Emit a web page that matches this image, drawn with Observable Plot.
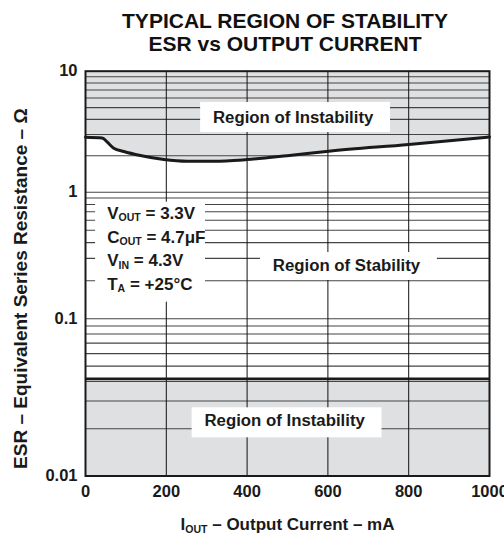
<!DOCTYPE html>
<html><head><meta charset="utf-8">
<script src="https://cdn.jsdelivr.net/npm/d3@7"></script>
<script src="https://cdn.jsdelivr.net/npm/@observablehq/plot@0.6"></script>
<style>
body{margin:0;background:#fff;font-family:"Liberation Sans",Arial,Helvetica,sans-serif;}
#title{box-sizing:border-box;height:60px;padding-top:8.5px;margin-left:83px;width:404px;text-align:center;font-weight:bold;font-size:21px;line-height:23px;color:#111;}
</style></head><body>
<div id="title">TYPICAL REGION OF STABILITY<br>ESR vs OUTPUT CURRENT</div>
<div id="chart"></div>
<script>
// ---- data ----
const currentMA = [0, 41, 54, 70, 95, 136, 194, 252, 318, 400, 499, 602, 800, 1000];
const esrUpper  = [2.85, 2.81, 2.59, 2.31, 2.17, 2.01, 1.86, 1.80, 1.80, 1.86, 2.00, 2.18, 2.48, 2.86];
const esrLower = 0.0415;
const xTicks = [0, 200, 400, 600, 800, 1000];
const xGrid = [200, 400, 600, 800];
const yTicks = [0.01, 0.1, 1, 10];
const yGrid = [0.02,0.03,0.04,0.05,0.06,0.07,0.08,0.09,0.1,
               0.2,0.3,0.4,0.5,0.6,0.7,0.8,0.9,1,
               2,3,4,5,6,7,8,9];
const regionLabels = ["Region of Instability", "Region of Stability", "Region of Instability"];
const regionLabelX = [514, 646, 493];
const regionLabelY = [4.17, 0.264, 0.02255];
const regionBoxX1 = [285, 433, 264];
const regionBoxX2 = [755, 871, 734];
const regionBoxY1 = [3.114, 0.2007, 0.0175];
const regionBoxY2 = [5.51, 0.334, 0.02716];
const conditionLines = ["V_{OUT} = 3.3V", "C_{OUT} = 4.7\u03bcF", "V_{IN} = 4.3V", "T_{A} = +25\u00b0C"];
const conditionX = 53.7;
const conditionY = [0.680, 0.442, 0.287, 0.1866];
const conditionBox = {x1: 25, x2: 297, y1: 0.1353, y2: 0.834};
const xLabel = "I_{OUT} \u2013 Output Current \u2013 mA";
const yLabel = "ESR \u2013 Equivalent Series Resistance \u2013 \u03a9";

const curve = currentMA.map((x, i) => ({x, y: esrUpper[i]}));
const boxes = regionLabels.map((t, i) => ({x1: regionBoxX1[i], x2: regionBoxX2[i], y1: regionBoxY1[i], y2: regionBoxY2[i]}));
const labels = regionLabels.map((t, i) => ({text: t, x: regionLabelX[i], y: regionLabelY[i]}));
const conds = conditionLines.map((t, i) => ({text: t, x: conditionX, y: conditionY[i]}));

// ---- layout ----
const W = 504, H = 476, mT = 10.7, mB = 60.5, mL = 85, mR = 15;
const yRange = [H - mB, 258.3, 131.7, mT];
const GRAY = "#dfe0e2", INK = "#1a1a1a";

const plot = Plot.plot({
  width: W, height: H,
  marginTop: mT, marginBottom: mB, marginLeft: mL, marginRight: mR,
  style: {fontFamily: '"Liberation Sans", Arial, sans-serif', fontWeight: "bold", color: INK, background: "#fff"},
  x: {domain: [0, 1000]},
  y: {type: "log", domain: yTicks, range: yRange},
  marks: [
    Plot.areaY(curve, {x: "x", y1: "y", y2: 10, fill: GRAY, curve: "monotone-x"}),
    Plot.areaY([{x: 0}, {x: 1000}], {x: "x", y1: 0.01, y2: esrLower, fill: GRAY}),
    Plot.ruleY(yGrid, {stroke: "#444", strokeWidth: 1.1}),
    Plot.ruleX(xGrid, {stroke: "#111", strokeWidth: 1}),
    Plot.ruleY([esrLower], {stroke: INK, strokeWidth: 2.5}),
    Plot.line(curve, {x: "x", y: "y", stroke: INK, strokeWidth: 3, curve: "monotone-x"}),
    Plot.rect(boxes, {x1: "x1", x2: "x2", y1: "y1", y2: "y2", fill: "#fff"}),
    Plot.rect([conditionBox], {x1: "x1", x2: "x2", y1: "y1", y2: "y2", fill: "#fff"}),
    Plot.text(labels, {x: "x", y: "y", text: "text", fontSize: 16.8, fill: INK, lineAnchor: "middle"}),
    Plot.text(conds, {x: "x", y: "y", text: "text", fontSize: 17, fill: INK, textAnchor: "start", lineAnchor: "middle"}),
    Plot.axisX({ticks: xTicks, tickSize: 0, tickPadding: 9.5, fontSize: 16.5, label: null, tickFormat: d => String(d), fill: INK}),
    Plot.axisY({ticks: yTicks, tickSize: 0, tickPadding: 8, fontSize: 16.5, label: null, tickFormat: d => String(d), fill: INK}),
    Plot.text([xLabel], {frameAnchor: "bottom", textAnchor: "middle", dy: 49, fontSize: 17, fill: INK, lineAnchor: "middle"}),
    Plot.text([yLabel], {frameAnchor: "left", textAnchor: "middle", rotate: -90, dx: -65, dy: 15, fontSize: 19, fill: INK, lineAnchor: "middle"}),
    Plot.frame({stroke: INK, strokeWidth: 2})
  ]
});

// subscripts written as _{...}
const NS = "http://www.w3.org/2000/svg";
d3.select(plot).selectAll("text").each(function() {
  const targets = this.querySelector("tspan") ? Array.from(this.querySelectorAll("tspan")) : [this];
  targets.forEach(t => {
    const s = t.textContent;
    if (!s.includes("_{")) return;
    const parts = s.split(/_\{([^}]*)\}/);
    t.textContent = "";
    parts.forEach((p, i) => {
      if (i % 2 === 1) {
        const sub = document.createElementNS(NS, "tspan");
        sub.setAttribute("font-size", "0.62em");
        sub.setAttribute("dy", "2.5");
        sub.textContent = p;
        t.appendChild(sub);
      } else if (p) {
        if (i === 0) t.appendChild(document.createTextNode(p));
        else {
          const ts = document.createElementNS(NS, "tspan");
          ts.setAttribute("dy", "-2.5");
          ts.textContent = p;
          t.appendChild(ts);
        }
      }
    });
  });
});

document.getElementById("chart").appendChild(plot);
</script></body></html>
